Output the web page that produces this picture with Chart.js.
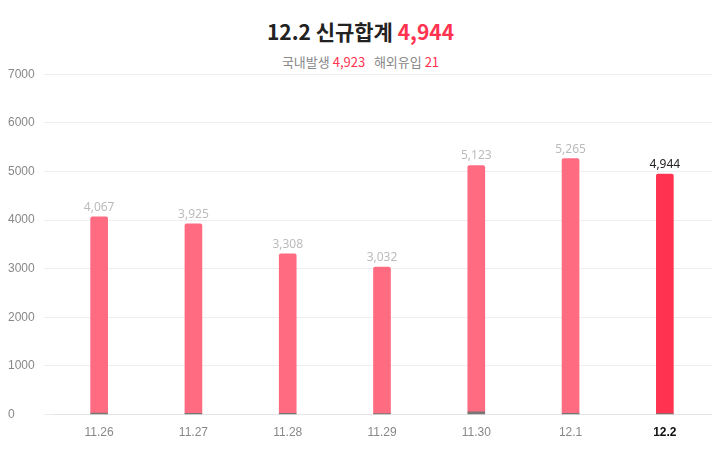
<!DOCTYPE html>
<html><head><meta charset="utf-8">
<script src="https://cdn.jsdelivr.net/npm/chart.js@4"></script>
<style>
body{margin:0;background:#fff;font-family:"Noto Sans CJK KR","Noto Sans",sans-serif;}
#t{position:absolute;top:16px;width:721px;text-align:center;font-size:21px;font-weight:bold;color:#222;}
#t span{color:#ff3250;}
#s{position:absolute;top:52px;width:721px;text-align:center;font-size:13px;color:#888;}
#s span{color:#ff3250;}
#w{position:absolute;left:0;top:67px;width:712px;height:382px;}
</style></head><body>
<div id="t">12.2 신규합계 <span>4,944</span></div>
<div id="s">국내발생 <span>4,923</span>&nbsp;&nbsp; 해외유입 <span>21</span></div>
<div id="w"><canvas id="c"></canvas></div>
<script>
const labels = ["11.26","11.27","11.28","11.29","11.30","12.1","12.2"];
const totals = [4067,3925,3308,3032,5123,5265,4944];
const overseas = [32,27,28,20,55,25,21];
const domestic = totals.map((t,i)=>t-overseas[i]);
const last = labels.length-1;
const topLabels = {
  id:"topLabels",
  afterDatasetsDraw(chart){
    const ctx=chart.ctx, meta=chart.getDatasetMeta(1);
    ctx.save();ctx.font="12px 'Noto Sans'";ctx.textAlign="center";
    meta.data.forEach((b,i)=>{
      ctx.fillStyle=i===last?"#222":"#bbb";
      ctx.fillText(totals[i].toLocaleString("en-US"),b.x,b.y-6);
    });
    ctx.restore();
  }
};
new Chart(document.getElementById("c"),{
  type:"bar",
  data:{labels,datasets:[
    {data:overseas,backgroundColor:"#777",barThickness:17,stack:"a"},
    {data:domestic,backgroundColor:labels.map((l,i)=>i===last?"#ff3250":"#ff6b81"),barThickness:17,stack:"a",borderRadius:{topLeft:2,topRight:2},borderSkipped:false}
  ]},
  options:{responsive:true,maintainAspectRatio:false,animation:false,
    layout:{padding:{top:0,bottom:6,left:8}},
    plugins:{legend:{display:false},tooltip:{enabled:false}},
    scales:{
      x:{stacked:true,grid:{display:false},border:{color:"#e5e5e5"},
        ticks:{color:ctx=>ctx.index===last?"#111":"#888",font:ctx=>({size:12,weight:ctx.index===last?"bold":"normal"})}},
      y:{stacked:true,min:0,max:7000,border:{display:false},grid:{color:"#eee"},
        afterFit(s){s.width=44;},
        ticks:{stepSize:1000,color:"#888",font:{size:12},crossAlign:"far",padding:0,callback:v=>String(v)}}
    }},
  plugins:[topLabels]
});
</script></body></html>
